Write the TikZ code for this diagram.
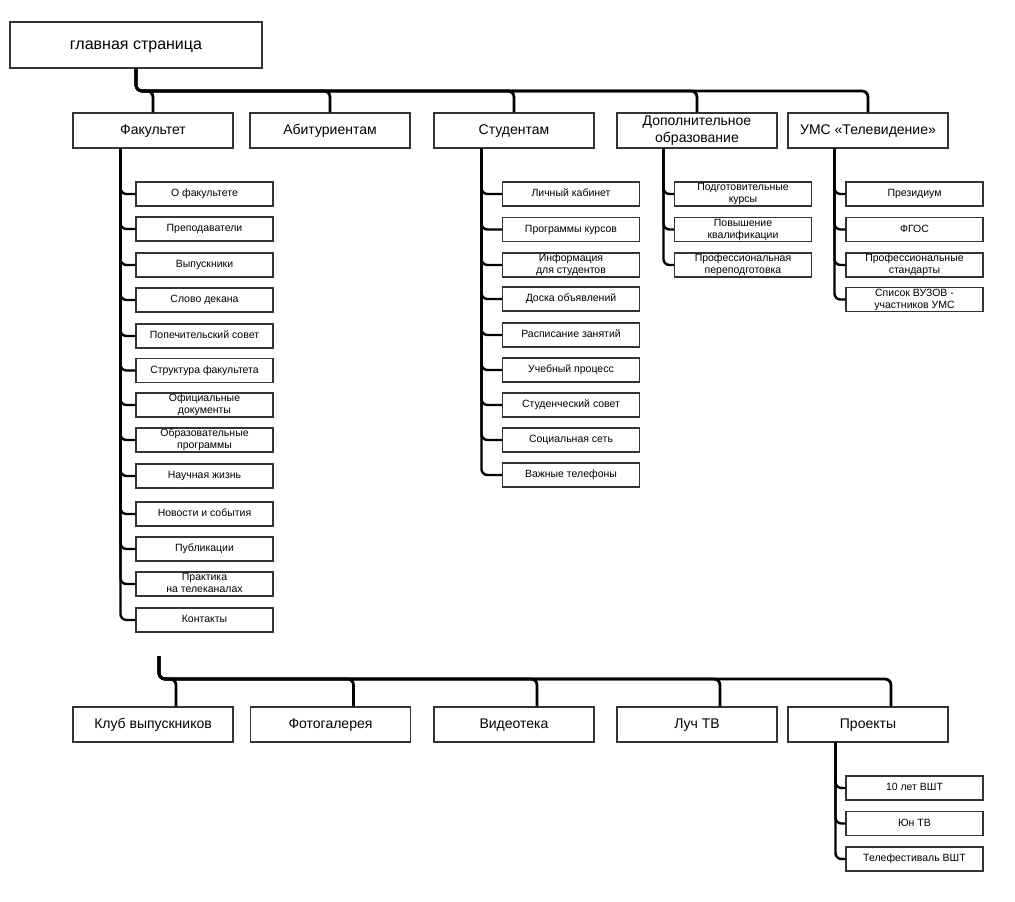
\documentclass[tikz,border=0pt]{standalone}
\usepackage{fontspec}
\setmainfont{Liberation Sans}
\begin{document}
\begin{tikzpicture}[x=1pt,y=-1pt,
  box/.style={draw=black!80,line width=1.1pt,fill=white,inner sep=0pt,align=center,
    execute at begin node={\rule{0pt}{0.72em}},
    execute at end node={\rule[-0.2em]{0pt}{0.2em}}},
  mainbox/.style={box,minimum width=252,minimum height=46,font=\fontsize{16}{19}\selectfont},
  topbox/.style={box,minimum width=160,minimum height=35,font=\fontsize{14}{16.5}\selectfont},
  subbox/.style={box,minimum width=137,minimum height=24,font=\fontsize{10.5}{12}\selectfont},
  bus/.style={draw=black,line width=2.8pt,rounded corners=6pt},
  conn/.style={draw=black,line width=2.4pt,rounded corners=6pt}]
\useasboundingbox (0,0) rectangle (1015,902);

\node[mainbox] (main) at (136,45) {главная страница};

\node[topbox] (fac) at (153,130.5) {Факультет};
\node[topbox] (abit) at (330,130.5) {Абитуриентам};
\node[topbox] (stud) at (514,130.5) {Студентам};
\node[topbox] (dop) at (697,130.5) {Дополнительное\\образование};
\node[topbox] (ums) at (868,130.5) {УМС «Телевидение»};

\coordinate (tbus) at (0,91);
\foreach \n in {fac,abit,stud,dop,ums}{
  \draw[bus] (main.south) -- (main.south |- tbus) -| (\n.north);
}

% Faculty children
\foreach \n/\y/\t in {f1/194/О факультете, f2/229/Преподаватели, f3/265/Выпускники, f4/300/Слово декана, f5/336/Попечительский совет, f6/370.5/Структура факультета, f7/405/Официальные\\документы, f8/440/Образовательные\\программы, f9/476/Научная жизнь, f10/514/Новости и события, f11/549/Публикации, f12/584/Практика\\на телеканалах, f13/620/Контакты}{
  \node[subbox] (\n) at (204.5,\y) {\t};
  \draw[conn] ([xshift=48]fac.south west) |- (\n.west);
}

% Students children
\foreach \n/\y/\t in {s1/194/Личный кабинет, s2/229.5/Программы курсов, s3/265/Информация\\для студентов, s4/299/Доска объявлений, s5/335/Расписание занятий, s6/370/Учебный процесс, s7/405/Студенческий совет, s8/440/Социальная сеть, s9/475/Важные телефоны}{
  \node[subbox] (\n) at (571,\y) {\t};
  \draw[conn] ([xshift=48]stud.south west) |- (\n.west);
}

% Dop children
\foreach \n/\y/\t in {d1/194/Подготовительные\\курсы, d2/229.5/Повышение\\квалификации, d3/265/Профессиональная\\переподготовка}{
  \node[subbox] (\n) at (743,\y) {\t};
  \draw[conn] ([xshift=47]dop.south west) |- (\n.west);
}

% UMS children
\foreach \n/\y/\t in {u1/194/Президиум, u2/229.5/ФГОС, u3/265/Профессиональные\\стандарты, u4/299.5/Список ВУЗОВ -\\участников УМС}{
  \node[subbox] (\n) at (914.5,\y) {\t};
  \draw[conn] ([xshift=47]ums.south west) |- (\n.west);
}

% Bottom row
\node[topbox] (club) at (153,724.5) {Клуб выпускников};
\node[topbox] (foto) at (330.5,724.5) {Фотогалерея};
\node[topbox] (video) at (514,724.5) {Видеотека};
\node[topbox] (luch) at (697,724.5) {Луч ТВ};
\node[topbox] (proj) at (868,724.5) {Проекты};

\coordinate (bstart) at (159,656);
\coordinate (bbus) at (159,679);
\foreach \n in {club,foto,video,luch,proj}{
  \draw[bus] (bstart) -- (bbus) -| ([xshift=23]\n.north);
}

% Projects children
\foreach \n/\y/\t in {p1/788/10 лет ВШТ, p2/823.5/Юн ТВ, p3/859/Телефестиваль ВШТ}{
  \node[subbox] (\n) at (914.5,\y) {\t};
  \draw[conn] ([xshift=48]proj.south west) |- (\n.west);
}
\end{tikzpicture}
\end{document}
